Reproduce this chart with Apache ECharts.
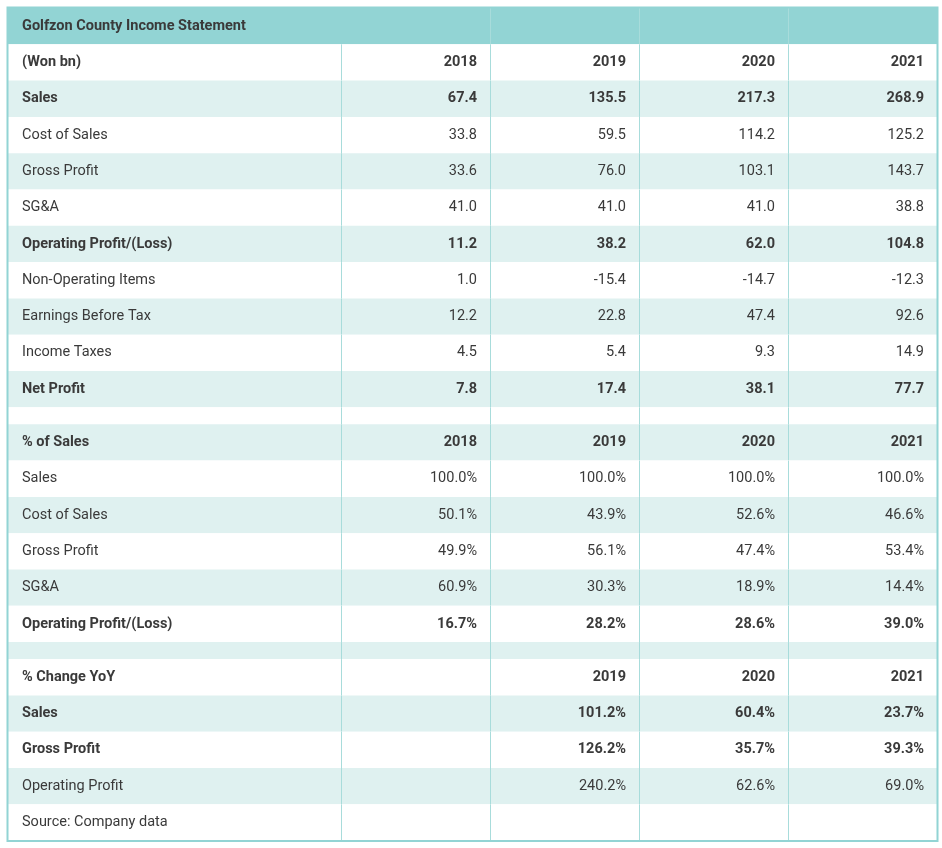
<!DOCTYPE html>
<html><head><meta charset="utf-8">
<script src="https://cdn.jsdelivr.net/npm/echarts@6/dist/echarts.min.js"></script>
<style>html,body{margin:0;padding:0;background:#fff}#main{width:942px;height:848px}</style>
</head><body><div id="main"></div>
<script>
// 表格数据
var title = 'Golfzon County Income Statement';
var years = ['2018', '2019', '2020', '2021'];
var rowLabels = ['(Won bn)', 'Sales', 'Cost of Sales', 'Gross Profit', 'SG&A', 'Operating Profit/(Loss)',
  'Non-Operating Items', 'Earnings Before Tax', 'Income Taxes', 'Net Profit', '',
  '% of Sales', 'Sales', 'Cost of Sales', 'Gross Profit', 'SG&A', 'Operating Profit/(Loss)', '',
  '% Change YoY', 'Sales', 'Gross Profit', 'Operating Profit', 'Source: Company data'];
var wonValues = [
  ['67.4', '135.5', '217.3', '268.9'],
  ['33.8', '59.5', '114.2', '125.2'],
  ['33.6', '76.0', '103.1', '143.7'],
  ['41.0', '41.0', '41.0', '38.8'],
  ['11.2', '38.2', '62.0', '104.8'],
  ['1.0', '-15.4', '-14.7', '-12.3'],
  ['12.2', '22.8', '47.4', '92.6'],
  ['4.5', '5.4', '9.3', '14.9'],
  ['7.8', '17.4', '38.1', '77.7']
];
var pctValues = [
  ['100.0%', '100.0%', '100.0%', '100.0%'],
  ['50.1%', '43.9%', '52.6%', '46.6%'],
  ['49.9%', '56.1%', '47.4%', '53.4%'],
  ['60.9%', '30.3%', '18.9%', '14.4%'],
  ['16.7%', '28.2%', '28.6%', '39.0%']
];
var yoyValues = [
  ['', '101.2%', '60.4%', '23.7%'],
  ['', '126.2%', '35.7%', '39.3%'],
  ['', '240.2%', '62.6%', '69.0%']
];
var boldRows = [0, 1, 5, 9, 11, 16, 18, 19, 20];
var shadedRows = [1, 3, 5, 7, 9, 11, 13, 15, 17, 19, 21];

// 布局
var colEdges = [8, 341, 490, 639, 788, 937];
var rowH = 36.3, gapH = 17, top0 = 8;

// 组装每一行的单元格
var rows = [];
rows.push({ cells: [title, '', '', '', ''], bold: true, header: true });
var y = top0 + rowH;
var valueRows = [years].concat(wonValues, [null], [years], pctValues, [null], [['', '2019', '2020', '2021']], yoyValues, [['', '', '', '']]);
var rowTops = [top0];
var rowHeights = [rowH];
for (var i = 0; i < rowLabels.length; i++) {
  var v = valueRows[i];
  var h = v === null ? gapH : rowH;
  rows.push({ cells: [rowLabels[i]].concat(v || ['', '', '', '']), bold: boldRows.indexOf(i) >= 0, shaded: shadedRows.indexOf(i) >= 0, gap: v === null });
  rowTops.push(y);
  rowHeights.push(h);
  y += h;
}
var tableBottom = y;

var chart = echarts.init(document.getElementById('main'));
var data = rows.map(function (r, i) { return [i]; });

chart.setOption({
  animation: false,
  grid: { left: 0, right: 0, top: 0, bottom: 0 },
  xAxis: { type: 'value', min: 0, max: 942, show: false },
  yAxis: { type: 'value', min: 0, max: 848, inverse: true, show: false },
  series: [{
    type: 'custom',
    data: data,
    renderItem: function (params, api) {
      var idx = api.value(0);
      var r = rows[idx];
      var t = rowTops[idx], h = rowHeights[idx];
      var p0 = api.coord([colEdges[0], t]);
      var p1 = api.coord([colEdges[5], t + h]);
      var children = [];
      var bg = r.header ? '#92d4d4' : (r.shaded ? '#dff1f0' : '#ffffff');
      children.push({ type: 'rect', shape: { x: p0[0], y: p0[1], width: p1[0] - p0[0], height: p1[1] - p0[1] }, style: { fill: bg } });
      for (var c = 1; c < 5; c++) {
        if (r.header && c === 1) continue;
        var px = api.coord([colEdges[c], t])[0];
        children.push({ type: 'line', shape: { x1: px + 0.5, y1: p0[1], x2: px + 0.5, y2: p1[1] }, style: { stroke: '#a8dcdb', lineWidth: 1 } });
      }
      var cy = (p0[1] + p1[1]) / 2;
      r.cells.forEach(function (txt, c) {
        if (!txt) return;
        var x = c === 0 ? api.coord([colEdges[0] + 14, t])[0] : api.coord([colEdges[c + 1] - 13, t])[0];
        children.push({
          type: 'text',
          style: {
            text: txt, x: x, y: cy, align: c === 0 ? 'left' : 'right', verticalAlign: 'middle',
            fontFamily: 'Roboto', fontSize: r.header ? 14.5 : 14.5, fontWeight: r.bold ? 'bold' : 'normal', fill: '#3a3a3a'
          }
        });
      });
      return { type: 'group', children: children };
    }
  }],
  graphic: [{
    type: 'rect', silent: true, z: 100,
    shape: { x: colEdges[0] - 0.5, y: top0 - 0.5, width: colEdges[5] - colEdges[0] + 1, height: tableBottom - top0 + 1 },
    style: { fill: 'none', stroke: '#92d4d4', lineWidth: 2 }
  }]
});
</script></body></html>
